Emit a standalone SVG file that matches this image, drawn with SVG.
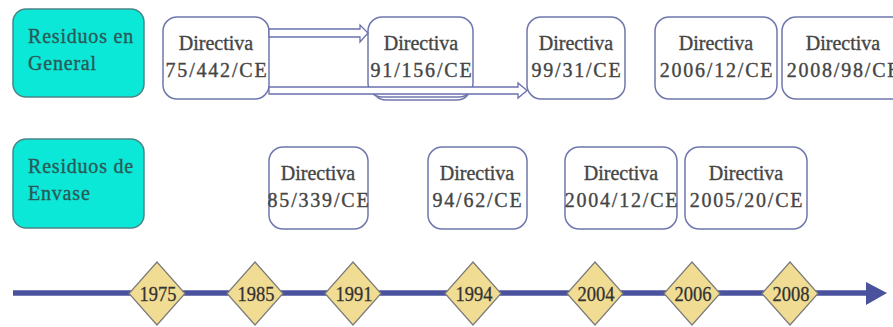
<svg xmlns="http://www.w3.org/2000/svg" width="893" height="327" viewBox="0 0 893 327">
<style>
.cat{fill:#0ce8d8;stroke:#4a8688;stroke-width:1.5}
.cat-t{font-family:"Liberation Serif","DejaVu Serif",serif;font-size:20px;fill:#2a5a56;stroke:#2a5a56;stroke-width:0.35px;letter-spacing:0.8px}
.dir{fill:#ffffff;stroke:#7077ad;stroke-width:1.5}
.dir-t{font-family:"Liberation Serif","DejaVu Serif",serif;font-size:20px;fill:#454545;stroke:#454545;stroke-width:0.35px;text-anchor:middle}
.code{letter-spacing:1.8px}
.yr{fill:#f0dc92;stroke:#7a7a7a;stroke-width:1.2}
.yr-t{font-family:"Liberation Serif","DejaVu Serif",serif;font-size:21px;fill:#333;stroke:#333;stroke-width:0.3px;text-anchor:middle}
.harrow{fill:#ffffff;stroke:#6a70b0;stroke-width:1.3}
</style>
<rect width="893" height="327" fill="#ffffff"/>

<g id="cat-general">
<rect class="cat" x="13" y="9" width="131" height="88" rx="13"/>
<text class="cat-t" x="28" y="43">Residuos en</text>
<text class="cat-t" x="28" y="70">General</text>
</g>
<g id="cat-envase">
<rect class="cat" x="13" y="139" width="131" height="89" rx="13"/>
<text class="cat-t" x="28" y="173">Residuos de</text>
<text class="cat-t" x="28" y="200">Envase</text>
</g>

<g id="d75-442">
<rect class="dir" x="163" y="17" width="106" height="82" rx="14"/>
<text class="dir-t" x="216" y="50">Directiva</text>
<text class="dir-t code" x="217" y="77">75/442/CE</text>
</g>
<g id="d91-156">
<rect class="dir" x="372" y="20" width="99" height="80" rx="14"/>
<rect class="dir" x="368" y="17" width="105" height="80" rx="14"/>
<text class="dir-t" x="421" y="50">Directiva</text>
<text class="dir-t code" x="422" y="77">91/156/CE</text>
</g>
<g id="d99-31">
<rect class="dir" x="527" y="17" width="98" height="82" rx="14"/>
<text class="dir-t" x="576" y="50">Directiva</text>
<text class="dir-t code" x="577" y="77">99/31/CE</text>
</g>
<g id="d2006-12">
<rect class="dir" x="655" y="17" width="122" height="82" rx="14"/>
<text class="dir-t" x="716" y="50">Directiva</text>
<text class="dir-t code" x="717" y="77">2006/12/CE</text>
</g>
<g id="d2008-98">
<rect class="dir" x="782" y="17" width="124" height="82" rx="14"/>
<text class="dir-t" x="843" y="50">Directiva</text>
<text class="dir-t code" x="844" y="77">2008/98/CE</text>
</g>

<g id="d85-339">
<rect class="dir" x="269" y="147" width="99" height="82" rx="14"/>
<text class="dir-t" x="318" y="180">Directiva</text>
<text class="dir-t code" x="319" y="207">85/339/CE</text>
</g>
<g id="d94-62">
<rect class="dir" x="428" y="147" width="99" height="82" rx="14"/>
<text class="dir-t" x="477" y="180">Directiva</text>
<text class="dir-t code" x="478" y="207">94/62/CE</text>
</g>
<g id="d2004-12">
<rect class="dir" x="565" y="147" width="112" height="82" rx="14"/>
<text class="dir-t" x="621" y="180">Directiva</text>
<text class="dir-t code" x="622" y="207">2004/12/CE</text>
</g>
<g id="d2005-20">
<rect class="dir" x="685" y="147" width="122" height="82" rx="14"/>
<text class="dir-t" x="746" y="180">Directiva</text>
<text class="dir-t code" x="747" y="207">2005/20/CE</text>
</g>

<g id="connectors">
<polygon class="harrow" points="269,29 360,29 360,25 368,33 360,42 360,37 269,37"/>
<polygon class="harrow" points="269,87 518,87 518,83 527,90.5 518,98 518,94 269,94"/>
<line x1="13" y1="293" x2="870" y2="293" stroke="#4a529e" stroke-width="5.5"/>
<polygon points="866,282 887,293 866,305" fill="#4a529e"/>
</g>

<g id="y1975"><polygon class="yr" points="157,262 185,293.5 157,325 129,293.5"/><text class="yr-t" x="158" y="301" textLength="37" lengthAdjust="spacingAndGlyphs">1975</text></g>
<g id="y1985"><polygon class="yr" points="255,262 283,293.5 255,325 227,293.5"/><text class="yr-t" x="256" y="301" textLength="37" lengthAdjust="spacingAndGlyphs">1985</text></g>
<g id="y1991"><polygon class="yr" points="353,262 381,293.5 353,325 325,293.5"/><text class="yr-t" x="354" y="301" textLength="37" lengthAdjust="spacingAndGlyphs">1991</text></g>
<g id="y1994"><polygon class="yr" points="473,262 501,293.5 473,325 445,293.5"/><text class="yr-t" x="474" y="301" textLength="37" lengthAdjust="spacingAndGlyphs">1994</text></g>
<g id="y2004"><polygon class="yr" points="595,262 623,293.5 595,325 567,293.5"/><text class="yr-t" x="596" y="301" textLength="37" lengthAdjust="spacingAndGlyphs">2004</text></g>
<g id="y2006"><polygon class="yr" points="692,262 720,293.5 692,325 664,293.5"/><text class="yr-t" x="693" y="301" textLength="37" lengthAdjust="spacingAndGlyphs">2006</text></g>
<g id="y2008"><polygon class="yr" points="790,262 818,293.5 790,325 762,293.5"/><text class="yr-t" x="791" y="301" textLength="37" lengthAdjust="spacingAndGlyphs">2008</text></g>
</svg>
